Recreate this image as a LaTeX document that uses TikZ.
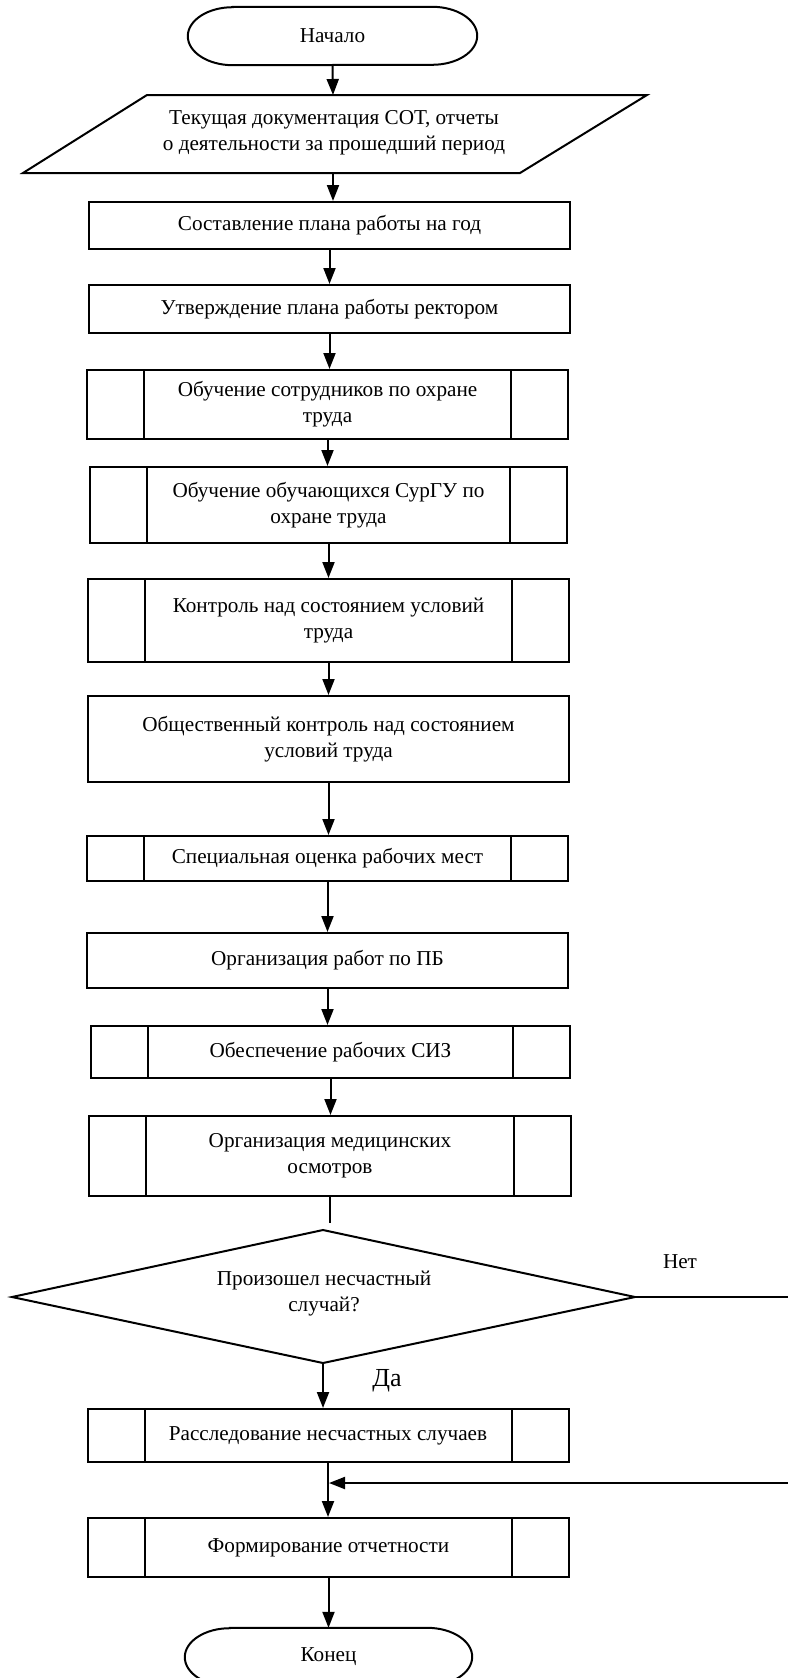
\documentclass[tikz,border=0pt]{standalone}
\usepackage{fontspec}
\setmainfont{Liberation Serif}
\usetikzlibrary{arrows.meta}
\begin{document}
\begin{tikzpicture}[x=1pt,y=-1pt,
  every node/.style={font=\fontsize{21.2}{26}\selectfont, text=black},
  ln/.style={line width=2pt, draw=black},
  stepbox/.style={ln, minimum width=481pt, inner sep=0pt, align=center},
  arr/.style={line width=2pt, -{Triangle[length=16pt,width=12pt]}},
]
\fill[white] (0,0) rectangle (787,1678);
\useasboundingbox (0,0) rectangle (787,1678);

% start terminator
\node[minimum width=289pt, minimum height=58pt, inner sep=0pt] (start) at (332.5,36) {Начало};
\draw[ln] ([xshift=45pt]start.north west) -- ([xshift=-45pt]start.north east)
  arc[start angle=90, end angle=-90, x radius=45pt, y radius=29pt]
  -- ([xshift=45pt]start.south west)
  arc[start angle=270, end angle=90, x radius=45pt, y radius=29pt] -- cycle;

% parallelogram
\coordinate (p1) at (147,95);
\coordinate (p2) at (647,95);
\coordinate (p3) at (520,173);
\coordinate (p4) at (23,173);
\draw[ln] (p1) -- (p2) -- (p3) -- (p4) -- cycle;
\node[align=center] (para) at (334,133) {Текущая документация СОТ, отчеты\\о деятельности за прошедший период};
\coordinate (paraT) at (333,95);
\coordinate (paraB) at (333,173);

% process boxes
\node[stepbox, minimum height=47pt] (b1) at (329.5,225.5) {Составление плана работы на год};
\node[stepbox, minimum height=48pt] (b2) at (329.5,309) {Утверждение плана работы ректором};
\node[stepbox, minimum height=69pt] (b3) at (327.5,404.5) {Обучение сотрудников по охране\\труда};
\node[stepbox, minimum width=477pt, minimum height=76pt] (b4) at (328.5,505) {Обучение обучающихся СурГУ по\\охране труда};
\node[stepbox, minimum height=83pt] (b5) at (328.5,620.5) {Контроль над состоянием условий\\труда};
\node[stepbox, minimum height=86pt] (b6) at (328.5,739) {Общественный контроль над состоянием\\условий труда};
\node[stepbox, minimum height=45pt] (b7) at (327.5,858.5) {Специальная оценка рабочих мест};
\node[stepbox, minimum height=55pt] (b8) at (327.5,960.5) {Организация работ по ПБ};
\node[stepbox, minimum width=479pt, minimum height=52pt] (b9) at (330.5,1052) {Обеспечение рабочих СИЗ};
\node[stepbox, minimum width=482pt, minimum height=80pt] (b10) at (330,1156) {Организация медицинских\\осмотров};

% decision
\coordinate (dT) at (323,1230);
\coordinate (dL) at (12,1297);
\coordinate (dB) at (323,1363);
\coordinate (dR) at (635,1297);
\draw[ln] (dT) -- (dR) -- (dB) -- (dL) -- cycle;
\node[align=center] (dq) at (324,1294) {Произошел несчастный\\случай?};

\node[stepbox, minimum height=53pt] (b11) at (328,1435.5) {Расследование несчастных случаев};
\node[stepbox, minimum height=59pt] (b12) at (328.5,1547.5) {Формирование отчетности};

% end terminator
\node[minimum width=287pt, minimum height=58pt, inner sep=0pt] (end) at (328.5,1657) {Конец};
\draw[ln] ([xshift=45pt]end.north west) -- ([xshift=-45pt]end.north east)
  arc[start angle=90, end angle=-90, x radius=45pt, y radius=29pt]
  -- ([xshift=45pt]end.south west)
  arc[start angle=270, end angle=90, x radius=45pt, y radius=29pt] -- cycle;

% sub-process side bars
\foreach \n in {b3,b4,b5,b7,b9,b10,b11,b12}{
  \draw[ln] ([xshift=58pt]\n.north west) -- ([xshift=58pt]\n.south west)
            ([xshift=-58pt]\n.north east) -- ([xshift=-58pt]\n.south east);
}

% labels
\node (yes) at (387,1381) {\fontsize{26}{30}\selectfont Да};
\node (no) at (680,1262) {Нет};

% connectors
\draw[arr] (start.south) -- (paraT);
\draw[arr] (paraB) -- (paraB |- b1.north);
\draw[arr] (b1.south) -- (b1.south |- b2.north);
\draw[arr] (b2.south) -- (b2.south |- b3.north);
\draw[arr] (b3.south) -- (b3.south |- b4.north);
\draw[arr] (b4.south) -- (b4.south |- b5.north);
\draw[arr] (b5.south) -- (b5.south |- b6.north);
\draw[arr] (b6.south) -- (b6.south |- b7.north);
\draw[arr] (b7.south) -- (b7.south |- b8.north);
\draw[arr] (b8.south) -- (b8.south |- b9.north);
\draw[arr] (b9.south) -- (b9.south |- b10.north);
\coordinate (d0) at (330,1223);
\draw[ln] (b10.south) -- (d0);
\draw[arr] (dB) -- (dB |- b11.north);
\draw[arr] (b11.south) -- (b11.south |- b12.north);
\draw[arr] (b12.south) -- (b12.south |- end.north);
\coordinate (rt) at (790,1297);
\coordinate (jn) at (329,1483);
\draw[arr] (dR) -- (rt) |- (jn);
\end{tikzpicture}
\end{document}
